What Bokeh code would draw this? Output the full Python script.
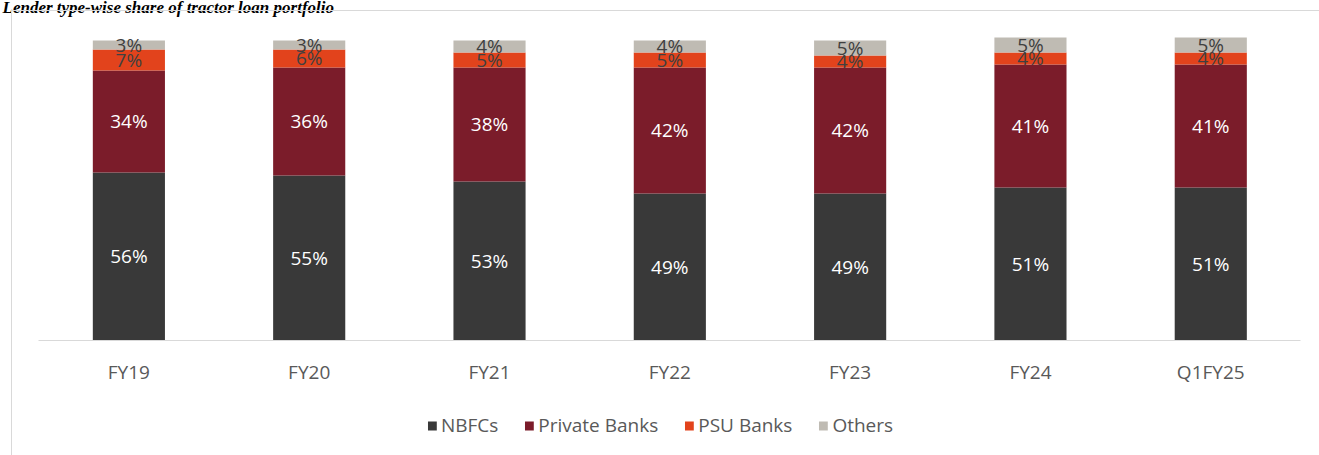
import numpy as np
from bokeh.plotting import figure
from bokeh.layouts import column
from bokeh.models import (ColumnDataSource, Range1d, Legend, LegendItem, Label, FixedTicker)
from bokeh.core.properties import value
from bokeh.embed import file_html
from bokeh.resources import INLINE

# ---- data ----
categories = ["FY19", "FY20", "FY21", "FY22", "FY23", "FY24", "Q1FY25"]
nbfcs = [56, 55, 53, 49, 49, 51, 51]
private_banks = [34, 36, 38, 42, 42, 41, 41]
psu_banks = [7, 6, 5, 5, 4, 4, 4]
others = [3, 3, 4, 4, 5, 5, 5]
series_names = ["NBFCs", "Private Banks", "PSU Banks", "Others"]
title_text = "Lender type-wise share of tractor loan portfolio"

# ---- styles ----
colors = ["#393939", "#7b1c2a", "#e2431c", "#bfbbb3"]
label_colors = ["#ffffff", "#ffffff", "#404040", "#404040"]
FONT = "Open Sans"
BORDER = "#d9d9d9"

keys = ["nbfcs", "private", "psu", "others"]
series = [nbfcs, private_banks, psu_banks, others]
xpos = list(range(len(categories)))
data = {"x": xpos, "cat": categories}
for k, s in zip(keys, series):
    data[k] = s
source = ColumnDataSource(data)

W = 1319
X_RANGE = (-0.712, len(categories) - 1 + 0.603)

# ---- main chart: frame spans the full canvas width and starts at its top ----
p = figure(x_range=Range1d(*X_RANGE), y_range=Range1d(0, 113.3),
           width=W, height=395, output_backend="svg", toolbar_location=None,
           min_border_left=0, min_border_right=0, min_border_top=0,
           min_border_bottom=55)
p.stylesheets = [":host { position: relative; }",
                 ":host::after { content: ''; position: absolute; left: 11px; top: 10px; "
                 "right: -20px; bottom: 0px; border-left: 1px solid " + BORDER + "; "
                 "border-top: 1px solid " + BORDER + "; pointer-events: none; }"]
p.outline_line_color = None
p.background_fill_color = "white"
p.border_fill_color = "white"
p.xgrid.visible = False
p.ygrid.visible = False
p.yaxis.visible = False

renderers = p.vbar_stack(keys, x="x", width=0.4, color=colors, source=source,
                         line_color=None)

# data labels at segment centres
arr = np.array(series, dtype=float)
cum = np.cumsum(arr, axis=0)
for i in range(len(keys)):
    mids = cum[i] - arr[i] / 2.0
    lsrc = ColumnDataSource(dict(x=xpos, y=list(mids),
                                 t=[f"{int(v)}%" for v in series[i]]))
    p.text(x="x", y="y", text="t", source=lsrc, text_align="center",
           text_baseline="middle", text_color=label_colors[i],
           text_font=value(FONT), text_font_size="19px")

ax = p.xaxis[0]
ax.ticker = FixedTicker(ticks=xpos)
ax.major_label_overrides = {i: c for i, c in zip(xpos, categories)}
ax.bounds = (-0.5, len(categories) - 0.5)
ax.axis_line_color = BORDER
ax.axis_line_width = 1
ax.major_tick_line_color = None
ax.minor_tick_line_color = None
ax.major_label_text_font = FONT
ax.major_label_text_font_size = "19px"
ax.major_label_text_color = "#595959"
ax.major_label_standoff = 12

# title: only its lower part shows at the top edge, as in the source image
p.add_layout(Label(x=2, y=7, x_units="canvas", y_units="canvas", text=title_text,
                   text_font="Liberation Serif", text_font_style="bold italic",
                   text_font_size="17px", text_color="#000000",
                   text_baseline="alphabetic"))

# ---- legend strip below the chart ----
lf = figure(width=W, height=60, output_backend="svg", toolbar_location=None,
            x_range=Range1d(*X_RANGE), y_range=Range1d(200, 201),
            x_axis_type=None, y_axis_type=None,
            min_border_left=0, min_border_right=0, min_border_top=0, min_border_bottom=0)
lf.stylesheets = [":host { position: relative; }",
                  ":host::after { content: ''; position: absolute; left: 11px; top: 0px; "
                  "bottom: -20px; border-left: 1px solid " + BORDER + "; pointer-events: none; }"]
lf.outline_line_color = None
lf.xgrid.visible = False
lf.ygrid.visible = False
# same stacked series (out of this strip's view) serve as legend swatches
swatches = lf.vbar_stack(keys, x="x", width=0.4, color=colors, source=source,
                         line_color=None)

legend = Legend(items=[LegendItem(label=n, renderers=[r]) for n, r in zip(series_names, swatches)],
                orientation="horizontal", location="center",
                glyph_width=11, glyph_height=11, label_standoff=4, spacing=25,
                label_text_font=FONT, label_text_font_size="19px",
                label_text_color="#595959", border_line_color=None,
                background_fill_alpha=0, margin=0, padding=0)
lf.add_layout(legend, "center")

layout = column(p, lf, spacing=0)
open("out.html", "w").write(file_html(layout, INLINE))
